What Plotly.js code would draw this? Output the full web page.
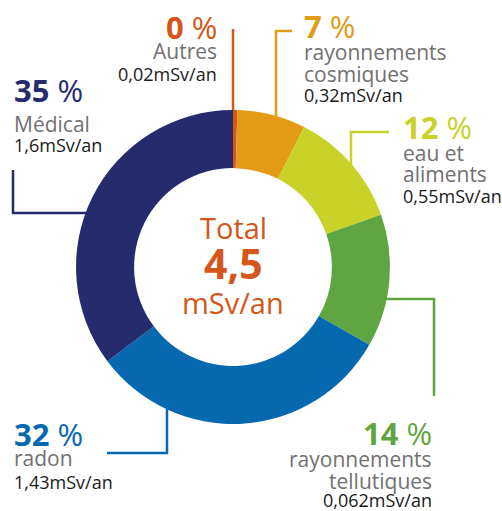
<!DOCTYPE html>
<html>
<head>
<meta charset="utf-8">
<script src="https://cdn.plot.ly/plotly-3.0.1.min.js"></script>
<style>html,body{margin:0;padding:0;background:#fff;}#chart{width:502px;height:511px;}</style>
</head>
<body>
<div id="chart"></div>
<script>
// ---- data ----
const categories = ["Autres", "rayonnements cosmiques", "eau et aliments", "rayonnements tellutiques", "radon", "Médical"];
const values = [0.02, 0.32, 0.55, 0.62, 1.43, 1.6];
const percentLabels = ["0", "7", "12", "14", "32", "35"];
const nameLines = [["Autres"], ["rayonnements", "cosmiques"], ["eau et", "aliments"], ["rayonnements", "tellutiques"], ["radon"], ["Médical"]];
const doseLabels = ["0,02mSv/an", "0,32mSv/an", "0,55mSv/an", "0,062mSv/an", "1,43mSv/an", "1,6mSv/an"];
const totalLabel = ["Total", "4,5", "mSv/an"];

const colors = ["#d4561b", "#e19b17", "#c8d228", "#5fa642", "#0669b0", "#262b6e"];
const W = 502, H = 511;
const px = x => x / W, py = y => 1 - y / H;
const FONT = "Open Sans";

// donut geometry (pixels)
const cx = 233, cy = 267, R = 157;

const trace = {
  type: "pie",
  labels: categories,
  values: values,
  sort: false,
  direction: "clockwise",
  rotation: 0,
  hole: 0.63,
  textinfo: "none",
  hoverinfo: "label+value",
  marker: {colors: colors, line: {width: 0}},
  domain: {x: [px(cx - R), px(cx + R)], y: [py(cy + R), py(cy - R)]},
  showlegend: false
};

// label blocks
const blocks = [
  {x: 219, xa: "right", yp: 27, yn: [51], yd: 74},
  {x: 302, xa: "left", yp: 26, yn: [52, 74], yd: 95},
  {x: 401, xa: "left", yp: 127, yn: [153, 174], yd: 196},
  {x: 434, xa: "right", yp: 433, yn: [459, 481], yd: 500},
  {x: 12, xa: "left", yp: 434, yn: [458], yd: 482},
  {x: 12, xa: "left", yp: 90, yn: [124], yd: 145}
];

const annotations = [];
blocks.forEach((b, i) => {
  annotations.push({xref: "paper", yref: "paper", x: px(b.x), y: py(b.yp), xanchor: b.xa, yanchor: "middle", showarrow: false,
    text: "<b>" + percentLabels[i] + "</b> %", font: {family: FONT, size: 31, color: colors[i]}});
  nameLines[i].forEach((t, j) => {
    annotations.push({xref: "paper", yref: "paper", x: px(b.x), y: py(b.yn[j]), xanchor: b.xa, yanchor: "middle", showarrow: false,
      text: t, font: {family: FONT, size: 21, color: "#717171"}});
  });
  annotations.push({xref: "paper", yref: "paper", x: px(b.x), y: py(b.yd), xanchor: b.xa, yanchor: "middle", showarrow: false,
    text: doseLabels[i], font: {family: FONT, size: 18, color: "#1a1a1a"}});
});
// center text
annotations.push({xref: "paper", yref: "paper", x: px(cx), y: py(227), xanchor: "center", yanchor: "middle", showarrow: false,
  text: totalLabel[0], font: {family: FONT, size: 29, color: "#d4561b"}});
annotations.push({xref: "paper", yref: "paper", x: px(cx), y: py(263), xanchor: "center", yanchor: "middle", showarrow: false,
  text: "<b>" + totalLabel[1] + "</b>", font: {family: FONT, size: 41, color: "#d4561b"}});
annotations.push({xref: "paper", yref: "paper", x: px(cx), y: py(302), xanchor: "center", yanchor: "middle", showarrow: false,
  text: totalLabel[2], font: {family: FONT, size: 29, color: "#d4561b"}});

// leader lines (pixel polylines), drawn below the donut
const leaders = [
  [[233, 29], [233, 130]],
  [[292, 31], [276, 31], [276, 130]],
  [[389, 132], [351, 132], [351, 175]],
  [[375, 299], [434, 299], [434, 396]],
  [[167, 395], [167, 453], [107, 453]],
  [[13, 170], [13, 213], [100, 213]]
];
const shapes = leaders.map((pts, i) => ({
  type: "path", xref: "paper", yref: "paper", layer: "below",
  path: pts.map((p, k) => (k ? "L" : "M") + px(p[0]) + "," + py(p[1])).join(" "),
  line: {color: colors[i], width: 2.5}
}));

Plotly.newPlot("chart", [trace], {
  width: W, height: H,
  margin: {l: 0, r: 0, t: 0, b: 0},
  paper_bgcolor: "#ffffff",
  font: {family: FONT},
  annotations: annotations,
  shapes: shapes
}, {staticPlot: true});
</script>
</body>
</html>
